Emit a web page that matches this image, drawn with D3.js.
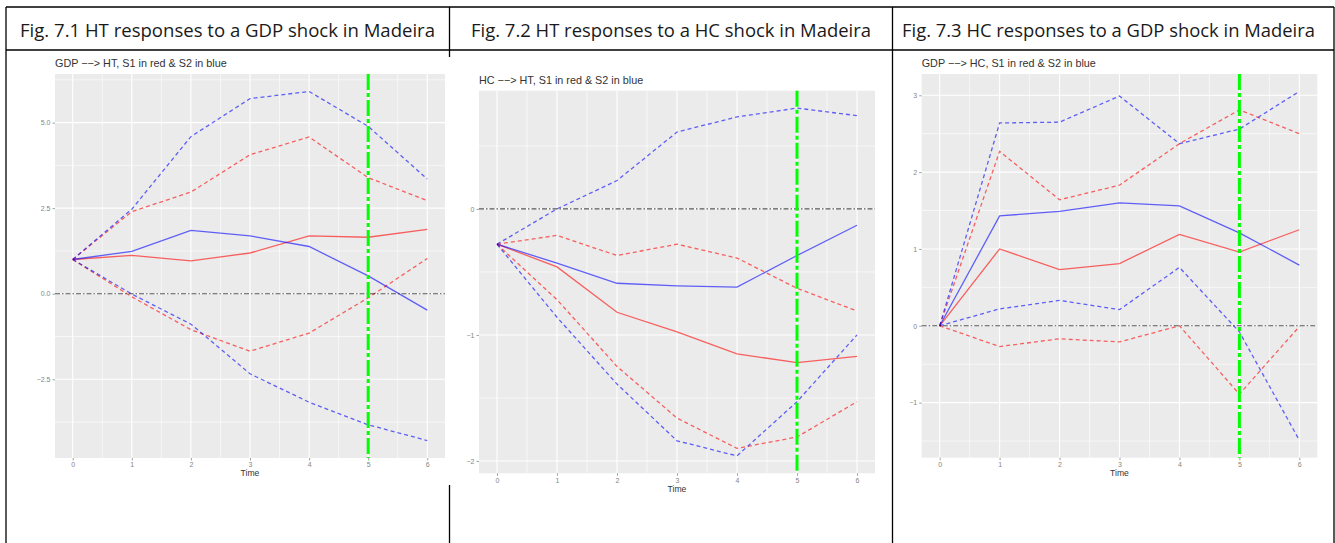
<!DOCTYPE html>
<html>
<head>
<meta charset="utf-8">
<script src="https://cdnjs.cloudflare.com/ajax/libs/d3/7.8.5/d3.min.js"></script>
<style>
  body { margin: 0; background: #fff; }
  svg { display: block; }
</style>
</head>
<body>
<svg id="chart" width="1335" height="543"></svg>
<script>
// time steps
var time = [0, 1, 2, 3, 4, 5, 6];

// Fig 7.1  GDP --> HT
var p1_s1    = [1.00, 1.12, 0.96, 1.19, 1.69, 1.65, 1.88];
var p1_s2    = [1.00, 1.24, 1.85, 1.69, 1.38, 0.52, -0.48];
var p1_s1_hi = [1.00, 2.40, 2.97, 4.06, 4.58, 3.39, 2.72];
var p1_s1_lo = [1.00, -0.09, -1.05, -1.68, -1.15, -0.12, 1.03];
var p1_s2_hi = [1.00, 2.47, 4.59, 5.70, 5.91, 4.89, 3.35];
var p1_s2_lo = [1.00, -0.01, -0.89, -2.34, -3.17, -3.83, -4.29];

// Fig 7.2  HC --> HT
var p2_s1    = [-0.28, -0.46, -0.82, -0.975, -1.15, -1.22, -1.17];
var p2_s2    = [-0.28, -0.43, -0.59, -0.61, -0.62, -0.37, -0.13];
var p2_s1_hi = [-0.28, -0.21, -0.37, -0.28, -0.39, -0.63, -0.81];
var p2_s1_lo = [-0.28, -0.72, -1.25, -1.66, -1.90, -1.81, -1.53];
var p2_s2_hi = [-0.28, 0.00, 0.225, 0.61, 0.73, 0.80, 0.74];
var p2_s2_lo = [-0.28, -0.86, -1.39, -1.84, -1.96, -1.53, -1.00];

// Fig 7.3  GDP --> HC
var p3_s1    = [0, 1.00, 0.73, 0.81, 1.19, 0.96, 1.25];
var p3_s2    = [0, 1.43, 1.49, 1.60, 1.56, 1.21, 0.79];
var p3_s1_hi = [0, 2.27, 1.64, 1.83, 2.37, 2.81, 2.50];
var p3_s1_lo = [0, -0.27, -0.17, -0.21, 0.00, -0.89, -0.01];
var p3_s2_hi = [0, 2.64, 2.65, 2.99, 2.37, 2.56, 3.05];
var p3_s2_lo = [0, 0.22, 0.33, 0.21, 0.76, -0.08, -1.49];

var headers = ["Fig. 7.1 HT responses to a GDP shock in Madeira",
               "Fig. 7.2 HT responses to a HC shock in Madeira",
               "Fig. 7.3 HC responses to a GDP shock in Madeira"];
var titles = ["GDP \u2212\u2212> HT, S1 in red & S2 in blue",
              "HC \u2212\u2212> HT, S1 in red & S2 in blue",
              "GDP \u2212\u2212> HC, S1 in red & S2 in blue"];
var yTicks = [[-2.5, 0, 2.5, 5], [-2, -1, 0], [-1, 0, 1, 2, 3]];
var yMinor = [[-3.75, -1.25, 1.25, 3.75, 6.25], [-1.5, -0.5, 0.5], [-1.5, -0.5, 0.5, 1.5, 2.5]];
var yFormat = [function(d){ return d3.format(".1f")(d).replace("-", "\u2212"); },
               function(d){ return String(d).replace("-", "\u2212"); },
               function(d){ return String(d).replace("-", "\u2212"); }];
var shockTime = 5;

var svg = d3.select("#chart");

// table frame
var frame = svg.append("g").attr("stroke", "#000").attr("stroke-width", 1.3);
frame.append("line").attr("x1", 6).attr("x2", 1334).attr("y1", 7).attr("y2", 7);
frame.append("line").attr("x1", 6).attr("x2", 1334).attr("y1", 50).attr("y2", 50);
frame.append("line").attr("x1", 6).attr("x2", 6).attr("y1", 7).attr("y2", 543);
frame.append("line").attr("x1", 1334).attr("x2", 1334).attr("y1", 7).attr("y2", 543);
frame.append("line").attr("x1", 449.5).attr("x2", 449.5).attr("y1", 7).attr("y2", 57);
frame.append("line").attr("x1", 449.5).attr("x2", 449.5).attr("y1", 485).attr("y2", 543);
frame.append("line").attr("x1", 892.5).attr("x2", 892.5).attr("y1", 7).attr("y2", 543);

var headerBoxes = [[20, 415], [471, 400], [902, 413]];
headers.forEach(function(h, i){
  svg.append("text")
    .attr("x", headerBoxes[i][0]).attr("y", 37)
    .attr("textLength", headerBoxes[i][1]).attr("lengthAdjust", "spacingAndGlyphs")
    .style("font-family", "'Open Sans', Lato, sans-serif")
    .style("font-size", "17.5px").attr("fill", "#1a1a1a")
    .text(h);
});

var panels = [
  {box: {l: 55, r: 445, t: 74, b: 458}, titleY: 67, xlabY: 476,
   s1: p1_s1, s2: p1_s2, s1hi: p1_s1_hi, s1lo: p1_s1_lo, s2hi: p1_s2_hi, s2lo: p1_s2_lo},
  {box: {l: 479, r: 875, t: 90.7, b: 473.3}, titleY: 84, xlabY: 492,
   s1: p2_s1, s2: p2_s2, s1hi: p2_s1_hi, s1lo: p2_s1_lo, s2hi: p2_s2_hi, s2lo: p2_s2_lo},
  {box: {l: 921.7, r: 1317.3, t: 74, b: 457.7}, titleY: 67, xlabY: 476,
   s1: p3_s1, s2: p3_s2, s1hi: p3_s1_hi, s1lo: p3_s1_lo, s2hi: p3_s2_hi, s2lo: p3_s2_lo}
];

panels.forEach(function(p, i){
  var b = p.box;
  var all = [].concat(p.s1, p.s2, p.s1hi, p.s1lo, p.s2hi, p.s2lo);
  var lo = d3.min(all), hi = d3.max(all), pad = (hi - lo) * 0.05;
  var x = d3.scaleLinear().domain([-0.3, 6.3]).range([b.l, b.r]);
  var y = d3.scaleLinear().domain([lo - pad, hi + pad]).range([b.b, b.t]);

  var g = svg.append("g");
  g.append("rect").attr("x", b.l).attr("y", b.t)
    .attr("width", b.r - b.l).attr("height", b.b - b.t).attr("fill", "#ebebeb");

  // grid
  var xMinor = time.slice(0, 6).map(function(d){ return d + 0.5; });
  g.selectAll(".gxm").data(xMinor).enter().append("line")
    .attr("x1", x).attr("x2", x).attr("y1", b.t).attr("y2", b.b)
    .attr("stroke", "#fff").attr("stroke-width", 0.6);
  g.selectAll(".gym").data(yMinor[i].filter(function(d){ return y(d) > b.t && y(d) < b.b; })).enter().append("line")
    .attr("x1", b.l).attr("x2", b.r).attr("y1", y).attr("y2", y)
    .attr("stroke", "#fff").attr("stroke-width", 0.6);
  g.selectAll(".gx").data(time).enter().append("line")
    .attr("x1", x).attr("x2", x).attr("y1", b.t).attr("y2", b.b)
    .attr("stroke", "#fff").attr("stroke-width", 1.1);
  g.selectAll(".gy").data(yTicks[i]).enter().append("line")
    .attr("x1", b.l).attr("x2", b.r).attr("y1", y).attr("y2", y)
    .attr("stroke", "#fff").attr("stroke-width", 1.1);

  // axes
  var xAxis = d3.axisBottom(x).tickValues(time).tickSize(2.5).tickPadding(2).tickFormat(d3.format("d"));
  var ax = g.append("g").attr("transform", "translate(0," + b.b + ")").call(xAxis);
  var yAxis = d3.axisLeft(y).tickValues(yTicks[i]).tickSize(2.5).tickPadding(2).tickFormat(yFormat[i]);
  var ay = g.append("g").attr("transform", "translate(" + b.l + ",0)").call(yAxis);
  [ax, ay].forEach(function(a){
    a.select(".domain").remove();
    a.selectAll("line").attr("stroke", "#8a8a8a").attr("stroke-width", 0.8);
    a.selectAll("text").attr("fill", "#858585")
      .style("font-family", "'Liberation Sans', Arial, sans-serif").style("font-size", "7px");
  });

  g.append("text").attr("x", (b.l + b.r) / 2).attr("y", p.xlabY)
    .attr("text-anchor", "middle").attr("fill", "#333")
    .style("font-family", "'Liberation Sans', Arial, sans-serif").style("font-size", "8.6px")
    .text("Time");
  g.append("text").attr("x", b.l).attr("y", p.titleY)
    .attr("fill", "#333")
    .style("font-family", "'Liberation Sans', Arial, sans-serif").style("font-size", "10.8px")
    .text(titles[i]);

  var line = d3.line().x(function(d, k){ return x(time[k]); }).y(function(d){ return y(d); });
  var series = [
    {v: p.s1hi, c: "red", dash: "4,3"},
    {v: p.s1lo, c: "red", dash: "4,3"},
    {v: p.s2hi, c: "blue", dash: "4,3"},
    {v: p.s2lo, c: "blue", dash: "4,3"},
    {v: p.s1, c: "red", dash: null},
    {v: p.s2, c: "blue", dash: null}
  ];
  series.forEach(function(s){
    g.append("path").datum(s.v).attr("d", line)
      .attr("fill", "none").attr("stroke", s.c).attr("stroke-opacity", 0.6)
      .attr("stroke-width", 1.3).attr("stroke-dasharray", s.dash);
  });

  // zero line and shock marker
  g.append("line").attr("x1", b.l).attr("x2", b.r).attr("y1", y(0)).attr("y2", y(0))
    .attr("stroke", "#000").attr("stroke-opacity", 0.65).attr("stroke-width", 1.1)
    .attr("stroke-dasharray", "5,2,1.5,2");
  g.append("line").attr("x1", x(shockTime)).attr("x2", x(shockTime)).attr("y1", b.t).attr("y2", b.b)
    .attr("stroke", "#00ff00").attr("stroke-width", 3)
    .attr("stroke-dasharray", "16,3,4,3");
});
</script>
</body>
</html>
